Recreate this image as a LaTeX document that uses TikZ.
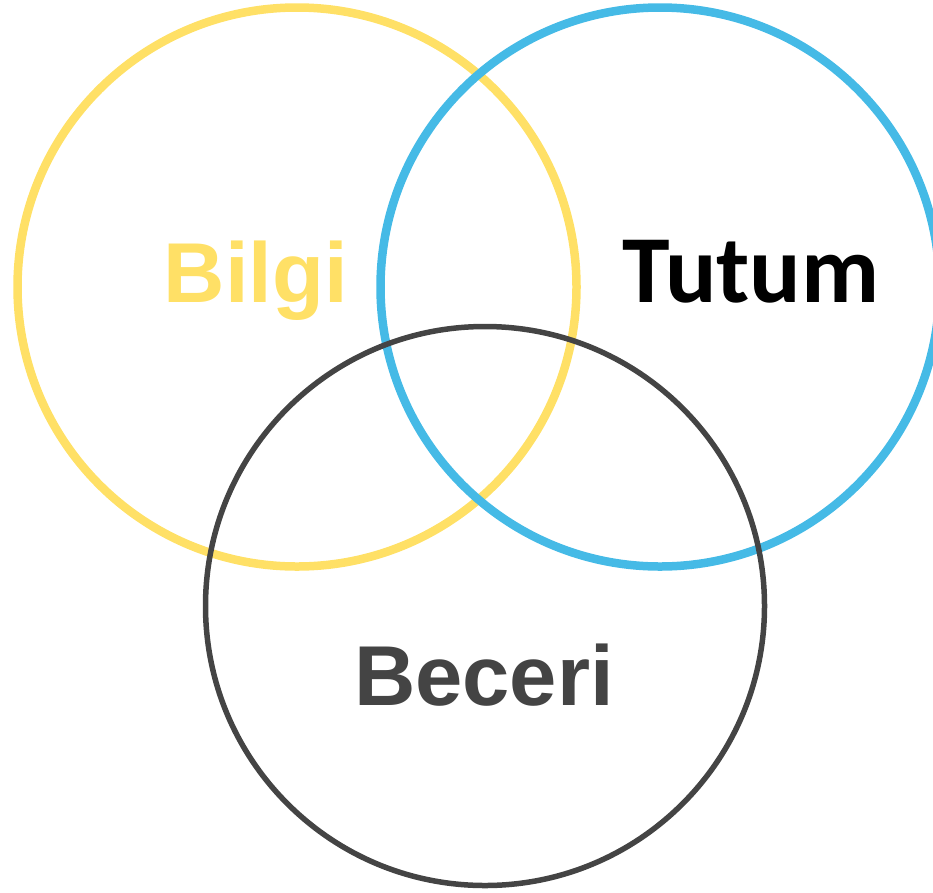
\documentclass[tikz,border=0pt]{standalone}
\usepackage{fontspec}
\setmainfont{Liberation Sans}
\newfontfamily\tutumfont{Carlito}
\usepackage{tikz}
\usetikzlibrary{positioning}
\definecolor{bilgiyellow}{RGB}{255,224,102}
\definecolor{tutumblue}{RGB}{69,186,230}
\definecolor{beceridark}{RGB}{68,68,68}
\tikzset{
  ring/.style={circle, draw=#1, minimum size=559pt, inner sep=0pt},
  word/.style={anchor=base, font=\bfseries\fontsize{85}{85}\selectfont}
}

\begin{document}
\begin{tikzpicture}[x=1pt, y=-1pt]
            \useasboundingbox (0,0) rectangle (933,892);
            \node[ring=bilgiyellow, line width=8.5pt] (bilgi) at (297,287) {};
            \node[ring=tutumblue, line width=8.5pt] (tutum) at (660,287) {};
            \node[ring=beceridark, line width=5.5pt] (beceri) at (485,606) {};
            \node[word, text=bilgiyellow] (bilgi_text) at (256,302) {Bilgi};
            \node[word, font=\tutumfont\bfseries\fontsize{96}{96}\selectfont] (tutum_text) at (751,302) {Tutum};
            \node[word, text=beceridark] (beceri_text) at (484,705) {Beceri};
        \end{tikzpicture}
\end{document}
